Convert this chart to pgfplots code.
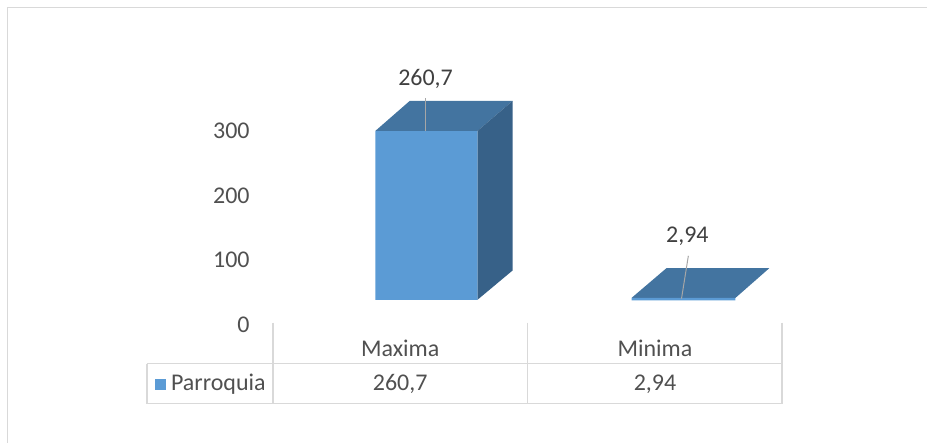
\documentclass[border=0pt]{standalone}
\usepackage{pgfplots}
\pgfplotsset{compat=1.18}
\usepackage{fontspec}
\setmainfont{Carlito}

\definecolor{barfront}{RGB}{91,155,213}
\definecolor{bartop}{RGB}{67,116,160}
\definecolor{barside}{RGB}{55,97,136}
\definecolor{txt}{RGB}{80,80,80}
\definecolor{grid}{RGB}{217,217,217}

\begin{document}
\begin{tikzpicture}[x=1pt,y=1pt,font=\fontsize{24}{28}\selectfont]
\path (0,0) rectangle (928,443);
\draw[grid,line width=1.5pt] (7.3,0) -- (7.3,435.7) -- (928,435.7);

\begin{axis}[
  at={(273pt,118pt)}, anchor=south west,
  scale only axis, width=509.7pt, height=226.5pt,
  xmin=-0.5, xmax=1.5, ymin=0, ymax=350,
  axis x line=none, axis y line=left,
  y axis line style={draw=none}, ytick style={draw=none},
  clip=false,
  ytick={0,100,200,300}, xtick=\empty,
  major tick length=0pt,
  yticklabel style={anchor=east, inner sep=0pt, xshift=-23pt, text=txt, font=\fontsize{24}{28}\selectfont},
  /pgf/number format/assume math mode=true,
]
% Maxima (260,7): front, top and side faces
\addplot[fill=barfront, draw=none, mark=none] coordinates {(-0.097,38.6) (0.304,38.6) (0.304,299.8) (-0.097,299.8) (-0.097,38.6)};
\addplot[fill=bartop, draw=none, mark=none] coordinates {(-0.097,299.8) (0.304,299.8) (0.442,346.2) (0.038,346.2) (-0.097,299.8)};
\addplot[fill=barside, draw=none, mark=none] coordinates {(0.304,38.6) (0.442,84) (0.442,346.2) (0.304,299.8) (0.304,38.6)};

% Minima (2,94): almost flat bar
\addplot[fill=bartop, draw=none, mark=none] coordinates {(0.909,41.5) (1.317,41.5) (1.450,87.5) (1.046,87.5) (0.909,41.5)};
\addplot[fill=barfront, draw=none, mark=none] coordinates {(0.909,37.5) (1.317,37.5) (1.317,41.5) (0.909,41.5) (0.909,37.5)};

% data labels with leader lines
\draw[gray!70, line width=1pt] (axis cs:0.100,350.9) -- (axis cs:0.100,299.8);
\node[text=black!75] at (axis cs:0.100,380) {260,7};
\draw[gray!70, line width=1pt] (axis cs:1.132,106.6) -- (axis cs:1.105,40.2);
\node[text=black!75] at (axis cs:1.128,137.6) {2,94};
\end{axis}

% data table
\draw[grid,line width=1.5pt] (273,120) -- (273,39);
\draw[grid,line width=1.5pt] (528,120) -- (528,39);
\draw[grid,line width=1.5pt] (782.7,120) -- (782.7,39);
\draw[grid,line width=1.5pt] (147,79) -- (147,39);
\draw[grid,line width=1.5pt] (147,79) -- (782.7,79);
\draw[grid,line width=1.5pt] (147,39) -- (782.7,39);
\node[text=txt] at (400.5,94) {Maxima};
\node[text=txt] at (655.5,94) {Minima};
\fill[barfront] (155,52.5) rectangle (166,63.5);
\node[text=txt, anchor=west, inner sep=0pt] at (171,58.5) {Parroquia};
\node[text=txt] at (400.5,58.5) {260,7};
\node[text=txt] at (655.5,58.5) {2,94};
\end{tikzpicture}
\end{document}
